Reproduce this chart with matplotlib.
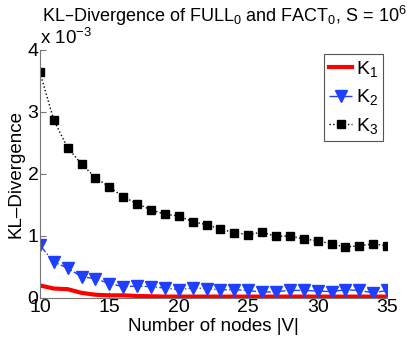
import matplotlib
matplotlib.use('Agg')
import matplotlib.pyplot as plt
from matplotlib.ticker import FuncFormatter

plt.rcParams['font.family'] = ['Liberation Sans', 'DejaVu Sans']
plt.rcParams['mathtext.default'] = 'regular'

# number of nodes |V|
nodes = list(range(10, 36))

# KL divergence values
k1 = [0.20e-3, 0.15e-3, 0.14e-3, 0.08e-3, 0.05e-3, 0.04e-3, 0.04e-3, 0.03e-3, 0.025e-3,
      0.02e-3, 0.02e-3, 0.02e-3, 0.02e-3, 0.02e-3, 0.02e-3, 0.02e-3, 0.02e-3, 0.02e-3,
      0.02e-3, 0.02e-3, 0.02e-3, 0.02e-3, 0.02e-3, 0.02e-3, 0.02e-3, 0.02e-3]
k2 = [0.85e-3, 0.58e-3, 0.48e-3, 0.34e-3, 0.31e-3, 0.23e-3, 0.18e-3, 0.19e-3, 0.18e-3,
      0.16e-3, 0.13e-3, 0.16e-3, 0.15e-3, 0.13e-3, 0.13e-3, 0.12e-3, 0.09e-3, 0.10e-3,
      0.12e-3, 0.12e-3, 0.11e-3, 0.10e-3, 0.13e-3, 0.12e-3, 0.08e-3, 0.12e-3]
k3 = [3.64e-3, 2.87e-3, 2.42e-3, 2.16e-3, 1.94e-3, 1.79e-3, 1.63e-3, 1.52e-3, 1.42e-3,
      1.35e-3, 1.32e-3, 1.23e-3, 1.18e-3, 1.11e-3, 1.05e-3, 1.02e-3, 1.06e-3, 0.99e-3,
      1.00e-3, 0.95e-3, 0.92e-3, 0.87e-3, 0.82e-3, 0.84e-3, 0.87e-3, 0.84e-3]

fig = plt.figure(figsize=(4.07, 3.40), dpi=100)
ax = fig.add_axes([0.098, 0.124, 0.853, 0.729])

ax.plot(nodes, k1, color='red', linewidth=3, label='K$_1$')
ax.plot(nodes, k2, color='#1f3fff', linestyle='-.', linewidth=1, marker='v',
        markersize=8, label='K$_2$')
ax.plot(nodes, k3, color='black', linestyle=':', linewidth=1, marker='s',
        markersize=6, label='K$_3$')

ax.set_xlim(10, 35)
ax.set_ylim(0, 4e-3)
ax.set_xticks([10, 15, 20, 25, 30, 35])
ax.set_yticks([0, 1e-3, 2e-3, 3e-3, 4e-3])
ax.yaxis.set_major_formatter(FuncFormatter(lambda v, p: '%g' % round(v * 1e3, 3)))

for side in ['top', 'right']:
    ax.spines[side].set_visible(False)
for side in ['left', 'bottom']:
    ax.spines[side].set_color('#777777')
ax.tick_params(direction='in', length=4, colors='#777777', labelcolor='black',
               labelsize=14, pad=1)

ax.set_xlabel('Number of nodes |V|', fontsize=13.5, labelpad=1)
ax.set_ylabel('KL\u2013Divergence', fontsize=13.5, labelpad=2)
ax.set_title('KL\u2013Divergence of FULL$_0$ and FACT$_0$, S = 10$^6$', fontsize=13,
             pad=20, x=0.53)
ax.text(0.0, 1.01, 'x 10$^{-3}$', transform=ax.transAxes, fontsize=13.5,
        ha='left', va='bottom')

leg = ax.legend(loc='upper right', fontsize=14, fancybox=False, framealpha=1,
                edgecolor='#555555', handlelength=1.2, handletextpad=0.2,
                borderpad=0.25, labelspacing=0.45, borderaxespad=0.2)
leg.get_frame().set_linewidth(0.8)

fig.savefig('out.png', dpi=100)
